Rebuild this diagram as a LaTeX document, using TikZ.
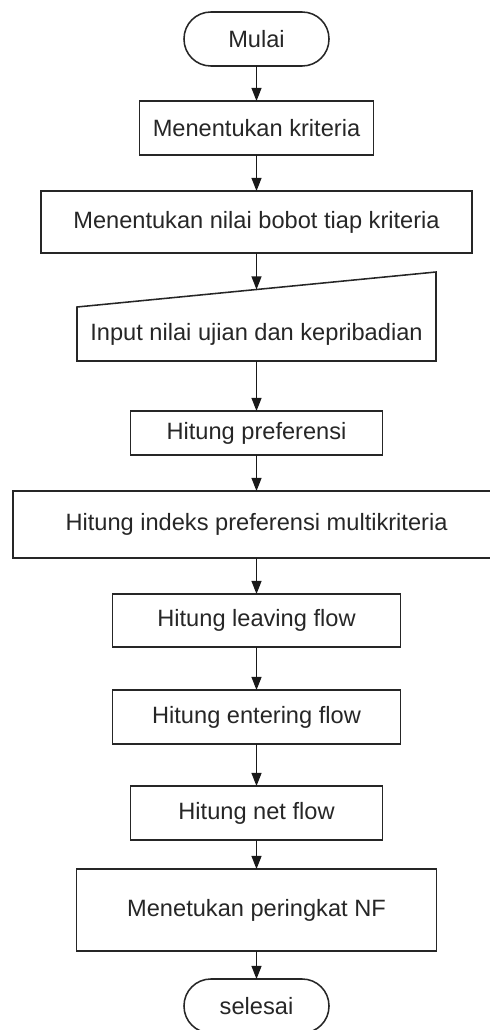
\documentclass[tikz,border=0pt]{standalone}
\usepackage{fontspec}
\setmainfont{Liberation Sans}
\usetikzlibrary{arrows.meta,positioning}

\begin{document}
\begin{tikzpicture}[
  font=\fontsize{16.8}{20}\selectfont,
  box/.style={draw=black!85, line width=1.1pt, text=black!85, align=center, inner sep=0pt, outer sep=0pt, minimum height=13.5mm},
  term/.style={box, rounded corners=6.7mm, minimum width=36.25mm},
  proc/.style={box},
  io/.style={box, draw=none},
  arrow/.style={-{Triangle[length=3.3mm, width=2.5mm]}, line width=1.1pt, draw=black!90}
]
\useasboundingbox (0,0) rectangle (122.25mm,-257.5mm);

\node[term] (start) at (64.125mm,-9.75mm) {Mulai};
\node[proc, minimum width=58.5mm, below=8.75mm of start] (kriteria) {Menentukan kriteria};
\node[proc, minimum width=107.75mm, minimum height=15.5mm, below=9mm of kriteria] (bobot) {Menentukan nilai bobot tiap kriteria};
\node[io, minimum width=89.75mm, below=13.5mm of bobot] (input) {Input nilai ujian dan kepribadian};
\node[proc, minimum width=63mm, minimum height=11mm, below=12.5mm of input] (pref) {Hitung preferensi};
\node[proc, minimum width=121.75mm, minimum height=16.75mm, below=9mm of pref] (indeks) {Hitung indeks preferensi multikriteria};
\node[proc, minimum width=72mm, minimum height=13.25mm, below=9mm of indeks] (leaving) {Hitung leaving flow};
\node[proc, minimum width=72mm, below=10.75mm of leaving] (entering) {Hitung entering flow};
\node[proc, minimum width=63mm, below=10.5mm of entering] (net) {Hitung net flow};
\node[proc, minimum width=90mm, minimum height=20.5mm, below=7.25mm of net] (rank) {Menetukan peringkat NF};
\node[term, below=7mm of rank] (stop) {selesai};

% manual input outline
\draw[draw=black!85, line width=1.1pt] (input.south west) -- (input.north west)
  -- ([yshift=8.75mm]input.north east) -- (input.south east) -- cycle;
\coordinate (inputtop) at ([yshift=4.375mm]input.north);

\draw[arrow] (start) -- (kriteria);
\draw[arrow] (kriteria) -- (bobot);
\draw[arrow] (bobot) -- (inputtop);
\draw[arrow] (input) -- (pref);
\draw[arrow] (pref) -- (indeks);
\draw[arrow] (indeks) -- (leaving);
\draw[arrow] (leaving) -- (entering);
\draw[arrow] (entering) -- (net);
\draw[arrow] (net) -- (rank);
\draw[arrow] (rank) -- (stop);

\end{tikzpicture}
\end{document}
